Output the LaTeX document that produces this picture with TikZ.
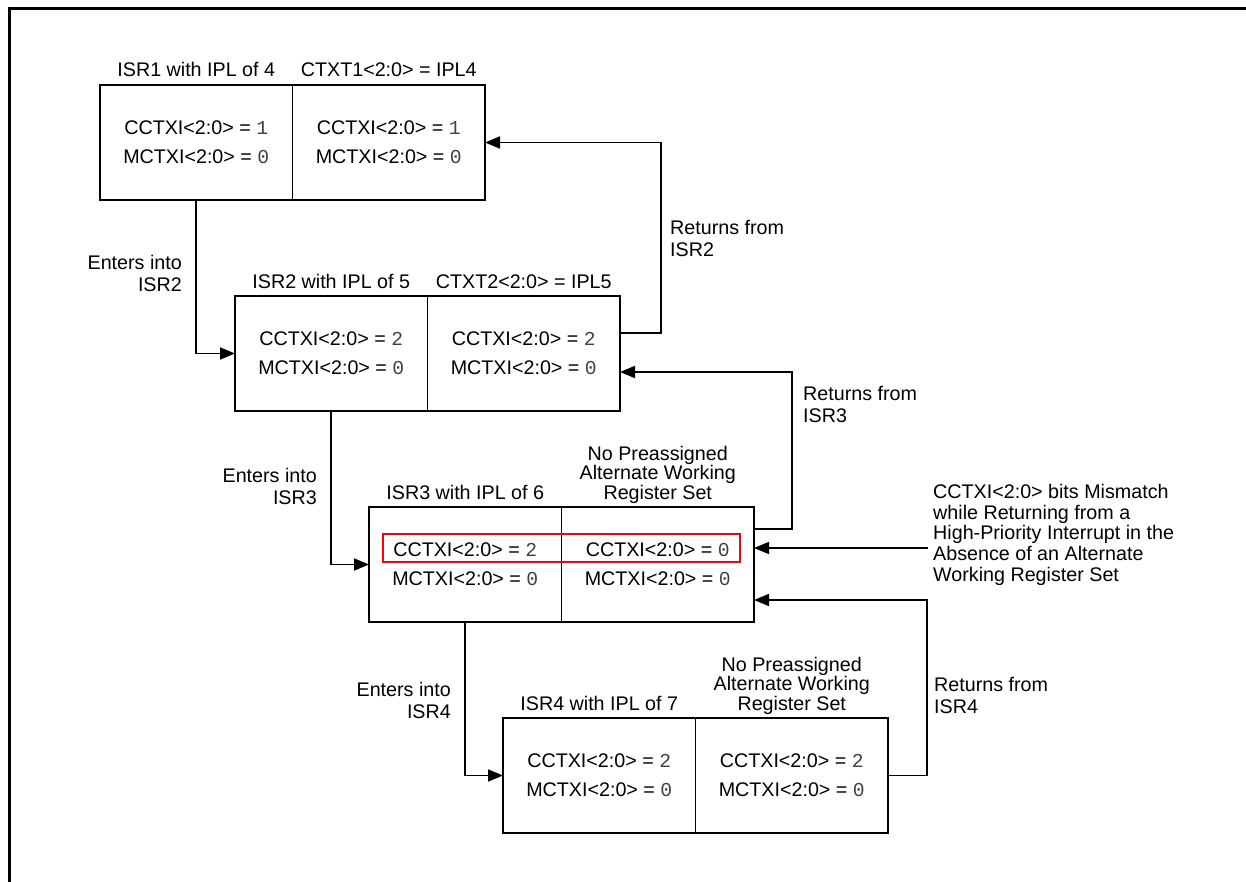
\documentclass[tikz,border=0pt]{standalone}
\usepackage{fontspec}
\setmainfont{Liberation Sans}
\newfontfamily\digfont{Liberation Mono}
\usetikzlibrary{positioning,arrows.meta}

\newcommand{\dg}[1]{{\digfont\color{black!75}#1}}
\newcommand{\regs}[2]{CCTXI<2:0> = \dg{#1}\\MCTXI<2:0> = \dg{#2}}

\tikzset{
  cell/.style={draw, line width=1.8pt, minimum width=192.5pt, minimum height=115pt,
    inner sep=0pt, outer sep=0pt, align=center, font=\fontsize{19.7pt}{29pt}\selectfont},
  title/.style={inner sep=0pt, align=center, font=\fontsize{19.7pt}{19.5pt}\selectfont},
  lbl/.style={inner sep=0pt, font=\fontsize{19.7pt}{22pt}\selectfont},
  flow/.style={line width=1.8pt, -{Triangle[length=15pt,width=12pt]}},
  hilite/.style={draw=red, line width=1.8pt}
}

\begin{document}
\begin{tikzpicture}[x=1pt,y=-1pt]
  \useasboundingbox (0,0) rectangle (1246,882);
  % frame
  \draw[line width=3pt] (9,882) -- (9,9) -- (1246,9);

  % the four interrupt levels
  \node[cell, anchor=north west] (isrA) at (100,85) {\regs{1}{0}};
  \node[cell, right=0pt of isrA] (ctxA) {\regs{1}{0}};
  \node[cell, anchor=north west] (isrB) at (235,296) {\regs{2}{0}};
  \node[cell, right=0pt of isrB] (ctxB) {\regs{2}{0}};
  \node[cell, anchor=north west] (isrC) at (369,507) {\regs{2}{0}};
  \node[cell, right=0pt of isrC] (ctxC) {CCTXI<2:0> = \dg{0}\\MCTXI<2:0> = \dg{0}};
  \node[cell, anchor=north west] (isrD) at (503,718) {\regs{2}{0}};
  \node[cell, right=0pt of isrD] (ctxD) {\regs{2}{0}};

  % titles
  \node[title, anchor=base] (tIsrA) at ([yshift=8pt]isrA.north) {ISR1 with IPL of 4};
  \node[title, anchor=base] (tCtxA) at ([yshift=8pt]ctxA.north) {CTXT1<2:0> = IPL4};
  \node[title, anchor=base] (tIsrB) at ([yshift=8pt]isrB.north) {ISR2 with IPL of 5};
  \node[title, anchor=base] (tCtxB) at ([yshift=8pt]ctxB.north) {CTXT2<2:0> = IPL5};
  \node[title, anchor=base] (tIsrC) at ([yshift=8pt]isrC.north) {ISR3 with IPL of 6};
  \node[title, anchor=north] (tCtxC) at ([yshift=61pt]ctxC.north) {No Preassigned\\Alternate Working\\Register Set};
  \node[title, anchor=base] (tIsrD) at ([yshift=8pt]isrD.north) {ISR4 with IPL of 7};
  \node[title, anchor=north] (tCtxD) at ([yshift=61pt]ctxD.north) {No Preassigned\\Alternate Working\\Register Set};

  % mismatch
  \draw[hilite] (383,534) rectangle (740,562);

  % entering
  \draw[flow] (isrA.south) |- (isrB.west);
  \draw[flow] (isrB.south) |- (isrC.west);
  \draw[flow] (isrC.south) |- (isrD.west);
  \node[lbl, anchor=north east, align=right] (inB) at (182,255) {Enters into\\ISR2};
  \node[lbl, anchor=north east, align=right] (inC) at (317,468) {Enters into\\ISR3};
  \node[lbl, anchor=north east, align=right] (inD) at (451,682) {Enters into\\ISR4};

  % returning
  \draw[flow] ([yshift=20.5pt]ctxB.east) -- ++(41,0) |- (ctxA.east);
  \draw[flow] ([yshift=35.5pt]ctxC.east) -- ++(38,0) |- ([yshift=-18.5pt]ctxB.east);
  \draw[flow] (ctxD.east) -- ++(39,0) |- ([yshift=-35.5pt]ctxC.east);
  \node[lbl, anchor=north west, align=left] (outB) at (670,220) {Returns from\\ISR2};
  \node[lbl, anchor=north west, align=left] (outC) at (803,386) {Returns from\\ISR3};
  \node[lbl, anchor=north west, align=left] (outD) at (934,677) {Returns from\\ISR4};

  \coordinate (tap) at (928,548);
  \draw[flow] (tap) -- (tap -| ctxC.east);
  \node[lbl, anchor=north west, align=left, font=\fontsize{19.7pt}{20.7pt}\selectfont] (note) at (933,484)
    {CCTXI<2:0> bits Mismatch\\while Returning from a\\High-Priority Interrupt in the\\Absence of an Alternate\\Working Register Set};
\end{tikzpicture}
\end{document}
